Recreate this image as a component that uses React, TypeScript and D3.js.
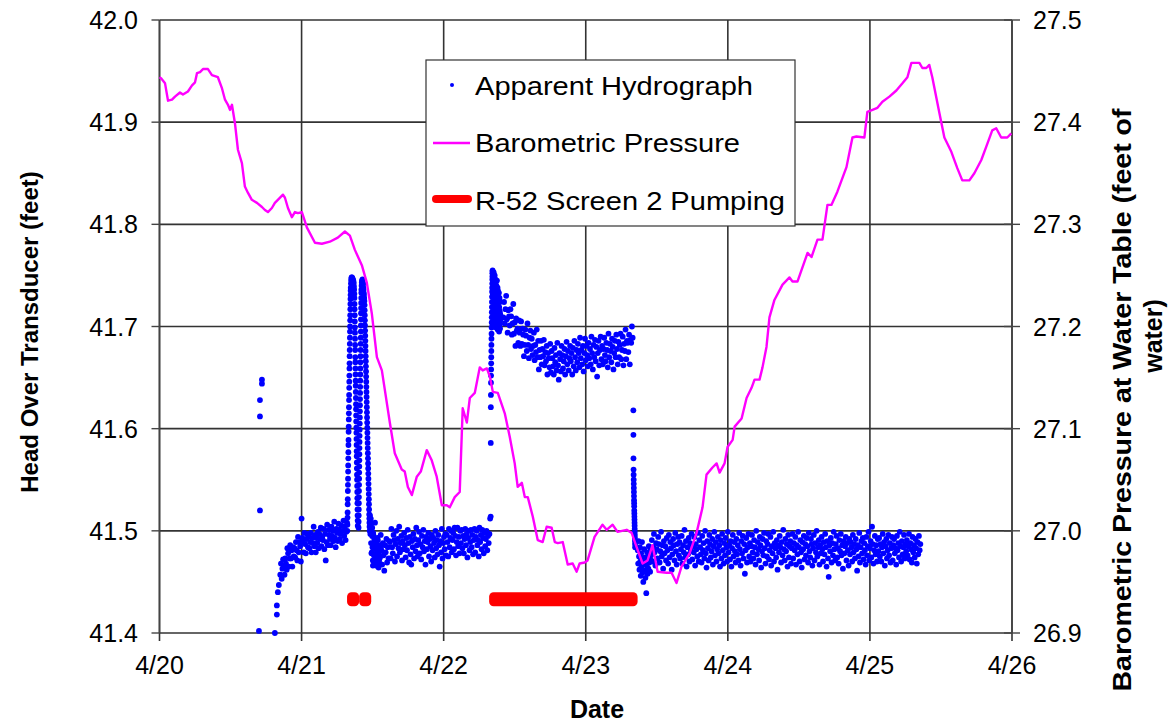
import React from "react";
import * as d3 from "d3";

// ---------- DATA ----------
const dayLabels = ["4/20", "4/21", "4/22", "4/23", "4/24", "4/25", "4/26"];
const leftTicks = [41.4, 41.5, 41.6, 41.7, 41.8, 41.9, 42.0];
const rightTicks = [26.9, 27.0, 27.1, 27.2, 27.3, 27.4, 27.5];

// Barometric pressure (feet of water) : [day since 4/20, value]
const baroPressure: [number, number][] = [
  [0.0, 27.444], [0.011, 27.443], [0.039, 27.438], [0.06, 27.421], [0.088, 27.422], [0.109, 27.425],
  [0.144, 27.429], [0.165, 27.427], [0.2, 27.43], [0.229, 27.436], [0.25, 27.439], [0.264, 27.448],
  [0.285, 27.449], [0.306, 27.452], [0.341, 27.452], [0.369, 27.446], [0.411, 27.444], [0.44, 27.433],
  [0.461, 27.422], [0.482, 27.417], [0.496, 27.412], [0.51, 27.417], [0.531, 27.399], [0.552, 27.373],
  [0.58, 27.36], [0.601, 27.337], [0.622, 27.331], [0.65, 27.324], [0.686, 27.321], [0.721, 27.317],
  [0.742, 27.314], [0.763, 27.312], [0.791, 27.316], [0.812, 27.321], [0.833, 27.324], [0.869, 27.329],
  [0.883, 27.326], [0.904, 27.316], [0.932, 27.307], [0.953, 27.312], [0.974, 27.311], [1.002, 27.312],
  [1.016, 27.306], [1.037, 27.297], [1.094, 27.282], [1.143, 27.281], [1.199, 27.283], [1.255, 27.287],
  [1.305, 27.293], [1.34, 27.289], [1.375, 27.275], [1.424, 27.26], [1.459, 27.243], [1.494, 27.213],
  [1.53, 27.17], [1.565, 27.157], [1.621, 27.106], [1.656, 27.076], [1.705, 27.06], [1.726, 27.058],
  [1.748, 27.043], [1.776, 27.035], [1.811, 27.053], [1.839, 27.058], [1.881, 27.079], [1.916, 27.069],
  [1.951, 27.053], [1.987, 27.025], [2.022, 27.025], [2.043, 27.023], [2.078, 27.033], [2.113, 27.038],
  [2.134, 27.12], [2.163, 27.106], [2.184, 27.13], [2.219, 27.135], [2.254, 27.16], [2.275, 27.157],
  [2.304, 27.159], [2.325, 27.151], [2.346, 27.136], [2.381, 27.135], [2.43, 27.115], [2.465, 27.092],
  [2.5, 27.066], [2.521, 27.043], [2.55, 27.047], [2.571, 27.033], [2.592, 27.033], [2.627, 27.014],
  [2.662, 26.991], [2.697, 26.989], [2.725, 27.004], [2.76, 27.003], [2.782, 26.989], [2.803, 26.988],
  [2.838, 26.989], [2.873, 26.967], [2.908, 26.968], [2.936, 26.96], [2.957, 26.968], [2.992, 26.969],
  [3.013, 26.971], [3.062, 26.994], [3.118, 27.006], [3.147, 27.001], [3.189, 27.006], [3.224, 26.999],
  [3.288, 27.001], [3.323, 26.998], [3.358, 26.984], [3.4, 26.968], [3.435, 26.971], [3.47, 26.986],
  [3.506, 26.96], [3.569, 26.959], [3.604, 26.959], [3.639, 26.949], [3.674, 26.965], [3.731, 26.978],
  [3.78, 26.998], [3.822, 27.023], [3.85, 27.055], [3.892, 27.062], [3.921, 27.066], [3.942, 27.057],
  [3.977, 27.066], [3.998, 27.082], [4.034, 27.089], [4.048, 27.102], [4.097, 27.11], [4.132, 27.13],
  [4.167, 27.14], [4.188, 27.148], [4.223, 27.148], [4.244, 27.16], [4.272, 27.18], [4.293, 27.209],
  [4.328, 27.226], [4.385, 27.241], [4.434, 27.248], [4.455, 27.244], [4.49, 27.244], [4.561, 27.272],
  [4.589, 27.268], [4.631, 27.285], [4.666, 27.285], [4.701, 27.319], [4.729, 27.319], [4.771, 27.332],
  [4.835, 27.356], [4.877, 27.385], [4.905, 27.386], [4.961, 27.385], [4.982, 27.41], [5.018, 27.412],
  [5.053, 27.414], [5.088, 27.42], [5.137, 27.425], [5.186, 27.431], [5.229, 27.438], [5.264, 27.444],
  [5.292, 27.458], [5.348, 27.458], [5.369, 27.453], [5.397, 27.453], [5.418, 27.456], [5.439, 27.444],
  [5.489, 27.409], [5.524, 27.385], [5.573, 27.371], [5.615, 27.355], [5.65, 27.343], [5.7, 27.343],
  [5.735, 27.35], [5.784, 27.363], [5.819, 27.376], [5.861, 27.392], [5.889, 27.394], [5.924, 27.385],
  [5.967, 27.385], [5.995, 27.389],
];

// Pumping intervals of R-52 screen 2 (days) and plotted level (feet)
const pumpStarts = [1.32, 1.405, 2.32];
const pumpEnds = [1.405, 1.49, 3.365];
const pumpLevel = 41.433;

// Apparent hydrograph (feet) – sparse early readings [day, value]
const hydroEarly: [number, number][] = [
  [0.7, 41.402], [0.707, 41.52], [0.707, 41.612], [0.707, 41.628], [0.721, 41.644], [0.721, 41.648],
  [0.812, 41.4], [0.826, 41.418], [0.826, 41.427], [0.833, 41.44], [0.84, 41.447],
];

// Logged sections (values in feet)
const hydroRecovery = [
  41.457, 41.468, 41.453, 41.463, 41.472, 41.466, 41.457, 41.473, 41.468, 41.462,
  41.483, 41.478, 41.465, 41.473, 41.486, 41.473, 41.481, 41.465, 41.484, 41.475,
  41.483, 41.474, 41.489, 41.481, 41.471, 41.494, 41.479, 41.489, 41.485, 41.47,
  41.512, 41.493, 41.489, 41.479, 41.498, 41.487, 41.478, 41.492, 41.497, 41.484,
  41.494, 41.483, 41.489, 41.498, 41.479, 41.493, 41.488, 41.504, 41.485, 41.496,
  41.479, 41.493, 41.488, 41.499, 41.483, 41.497, 41.492, 41.503, 41.485, 41.494,
  41.491, 41.502, 41.482, 41.497, 41.471, 41.489, 41.506, 41.486, 41.501, 41.496,
  41.492, 41.486, 41.504, 41.495, 41.5, 41.49, 41.509, 41.493, 41.484, 41.502,
  41.498, 41.49, 41.507, 41.501, 41.492, 41.497, 41.505, 41.488, 41.5, 41.51,
  41.495, 41.504, 41.491, 41.499, 41.508,
];
const spike1Rise = [
  41.5, 41.506, 41.513, 41.518, 41.526, 41.531, 41.539, 41.545, 41.551, 41.558,
  41.564, 41.571, 41.577, 41.584, 41.589, 41.597, 41.602, 41.609, 41.615, 41.621,
  41.628, 41.633, 41.64, 41.646, 41.652, 41.659, 41.664, 41.671, 41.677, 41.683,
  41.689, 41.695, 41.7, 41.706, 41.711, 41.717, 41.722, 41.727, 41.731, 41.735,
];
const spike1Top = [
  41.738, 41.742, 41.745, 41.747, 41.748, 41.746, 41.748, 41.745, 41.747, 41.744,
  41.746, 41.743, 41.745, 41.741, 41.743, 41.739, 41.736, 41.732,
];
const spike1Fall = [
  41.728, 41.722, 41.717, 41.711, 41.705, 41.699, 41.694, 41.688, 41.682, 41.677,
  41.67, 41.665, 41.659, 41.653, 41.647, 41.642, 41.636, 41.63, 41.624, 41.619,
  41.613, 41.607, 41.601, 41.596, 41.59, 41.584, 41.578, 41.573, 41.567, 41.561,
  41.555, 41.55, 41.544, 41.538, 41.532, 41.527, 41.521, 41.515, 41.51, 41.505,
];
const spike2Rise = [
  41.503, 41.509, 41.515, 41.521, 41.527, 41.533, 41.539, 41.545, 41.551, 41.557,
  41.563, 41.569, 41.575, 41.581, 41.587, 41.593, 41.599, 41.605, 41.611, 41.617,
  41.623, 41.629, 41.635, 41.641, 41.647, 41.653, 41.659, 41.665, 41.671, 41.677,
  41.683, 41.689, 41.695, 41.701, 41.707, 41.713, 41.718, 41.723, 41.728, 41.733,
];
const spike2Top = [
  41.736, 41.74, 41.743, 41.745, 41.744, 41.746, 41.743, 41.741, 41.742, 41.738,
  41.736, 41.733, 41.731, 41.728, 41.725, 41.721,
];
const spike2Fall = [
  41.716, 41.711, 41.706, 41.701, 41.696, 41.691, 41.686, 41.681, 41.676, 41.671,
  41.666, 41.661, 41.656, 41.651, 41.646, 41.641, 41.636, 41.631, 41.626, 41.621,
  41.616, 41.611, 41.606, 41.601, 41.596, 41.591, 41.586, 41.581, 41.576, 41.571,
  41.566, 41.561, 41.556, 41.551, 41.546, 41.541, 41.536, 41.531, 41.526, 41.521,
  41.516, 41.512, 41.508, 41.504, 41.5,
];
const hydroPostPump = [
  41.515, 41.497, 41.508, 41.488, 41.502, 41.479, 41.495, 41.484, 41.471, 41.498,
  41.486, 41.476, 41.492, 41.468, 41.483, 41.49, 41.474, 41.466, 41.487, 41.479,
  41.47, 41.493, 41.481, 41.465, 41.477, 41.486, 41.472, 41.48, 41.468, 41.484,
];
const hydroInterim = [
  41.512, 41.478, 41.503, 41.466, 41.495, 41.484, 41.508,
  41.47, 41.485, 41.478, 41.491, 41.464, 41.483, 41.474, 41.496, 41.481, 41.467,
  41.488, 41.476, 41.461, 41.486, 41.479, 41.492, 41.469, 41.484, 41.473, 41.49,
  41.489, 41.473, 41.502, 41.484, 41.478, 41.496, 41.491, 41.47, 41.487, 41.5,
  41.475, 41.492, 41.483, 41.504, 41.479, 41.488, 41.495, 41.471, 41.49, 41.482,
  41.498, 41.486, 41.474, 41.493, 41.481, 41.501, 41.488, 41.469, 41.494, 41.477,
  41.467, 41.49, 41.484, 41.497, 41.473, 41.492, 41.48, 41.503, 41.486, 41.475,
  41.491, 41.499, 41.478, 41.487, 41.472, 41.495, 41.484, 41.501, 41.48, 41.49,
  41.467, 41.494, 41.482, 41.489, 41.498, 41.475, 41.492, 41.485, 41.47, 41.496,
  41.481, 41.493, 41.488, 41.474, 41.5, 41.483, 41.491, 41.477, 41.496, 41.486,
  41.465, 41.49, 41.479, 41.502, 41.473, 41.488, 41.494, 41.482, 41.497, 41.476,
  41.496, 41.489, 41.475, 41.502, 41.484, 41.493, 41.5, 41.479, 41.491, 41.498,
  41.482, 41.503, 41.495, 41.476, 41.489, 41.503, 41.485, 41.494, 41.478, 41.5,
  41.488, 41.501, 41.483, 41.495, 41.478, 41.492, 41.502, 41.486, 41.497, 41.474,
  41.493, 41.5, 41.481, 41.489, 41.501, 41.484, 41.496, 41.477, 41.491, 41.502,
  41.479, 41.494, 41.5, 41.486, 41.491, 41.475, 41.503, 41.489, 41.496, 41.482,
  41.501, 41.493, 41.478, 41.498, 41.485, 41.492, 41.5, 41.481, 41.495, 41.488,
  41.497, 41.512,
];
const spike3Rise = [
  41.514, 41.586, 41.621, 41.633, 41.645, 41.652, 41.658, 41.664, 41.67, 41.676,
  41.682, 41.688, 41.693, 41.699, 41.704, 41.709, 41.714, 41.719, 41.724, 41.729,
  41.734, 41.738, 41.742, 41.746, 41.749, 41.752, 41.754, 41.755,
];
const spike3Top = [
  41.752, 41.731, 41.745, 41.718, 41.749, 41.737, 41.724, 41.753, 41.711, 41.741,
  41.728, 41.747, 41.706, 41.735, 41.75, 41.719, 41.742, 41.702, 41.731, 41.746,
  41.714, 41.738, 41.725, 41.744, 41.699, 41.729, 41.74, 41.71, 41.733, 41.721,
  41.745, 41.703, 41.727, 41.716, 41.738, 41.697, 41.722, 41.735, 41.708, 41.729,
  41.712, 41.7, 41.726, 41.717, 41.733, 41.695, 41.719, 41.709, 41.728, 41.702,
  41.715, 41.724, 41.698, 41.712, 41.706,
];
const hydroPumping = [
  41.709, 41.724, 41.703, 41.717, 41.73, 41.707, 41.694, 41.716, 41.71, 41.701, 41.717, 41.71, 41.692, 41.703, 41.722, 41.693, 41.704, 41.681, 41.708, 41.696,
  41.698, 41.684, 41.706, 41.694, 41.681, 41.705, 41.683, 41.698, 41.692, 41.671, 41.682, 41.697, 41.691, 41.676, 41.703, 41.682, 41.669, 41.689, 41.696, 41.678,
  41.688, 41.672, 41.681, 41.694, 41.667, 41.682, 41.675, 41.697, 41.67, 41.686, 41.658, 41.677, 41.67, 41.686, 41.663, 41.678, 41.671, 41.687, 41.662, 41.675,
  41.666, 41.681, 41.653, 41.674, 41.669, 41.66, 41.683, 41.655, 41.676, 41.669, 41.661, 41.653, 41.679, 41.665, 41.672, 41.657, 41.684, 41.662, 41.648, 41.674,
  41.668, 41.656, 41.681, 41.672, 41.659, 41.666, 41.678, 41.653, 41.671, 41.685, 41.663, 41.676, 41.657, 41.669, 41.681, 41.666, 41.674, 41.653, 41.679, 41.661,
  41.686, 41.67, 41.657, 41.677, 41.665, 41.683, 41.674, 41.66, 41.689, 41.669, 41.677, 41.663, 41.681, 41.656, 41.674, 41.688, 41.667, 41.681, 41.672, 41.661,
  41.684, 41.669, 41.678, 41.663, 41.69, 41.674, 41.658, 41.682, 41.67, 41.687, 41.666, 41.68, 41.651, 41.674, 41.686, 41.662, 41.677, 41.69, 41.668, 41.681,
  41.663, 41.678, 41.689, 41.672, 41.666, 41.684, 41.677, 41.66, 41.693, 41.67, 41.683, 41.676, 41.665, 41.688, 41.68, 41.658, 41.674, 41.686, 41.67, 41.692,
  41.678, 41.663, 41.685, 41.67, 41.682, 41.693, 41.668, 41.677, 41.69, 41.662, 41.683, 41.676, 41.697, 41.668, 41.686, 41.684, 41.675, 41.692, 41.663, 41.687,
  41.684, 41.7, 41.689,
];
const hydroDrop = [
  41.618, 41.594, 41.571, 41.56, 41.555, 41.55, 41.546, 41.542, 41.538, 41.534,
  41.53, 41.527, 41.524, 41.52, 41.517, 41.514, 41.511, 41.508, 41.505, 41.502,
  41.499, 41.496, 41.493, 41.49, 41.487, 41.484,
];
const hydroRebound = [
  41.481, 41.468, 41.49, 41.475, 41.462, 41.484, 41.47, 41.456, 41.478, 41.465,
  41.489, 41.459, 41.473, 41.45, 41.468, 41.482, 41.461, 41.474, 41.454, 41.47,
  41.439, 41.466, 41.479, 41.458, 41.472, 41.463, 41.485, 41.469, 41.476, 41.46,
  41.481, 41.471,
];
const hydroLate = [
  41.476, 41.491, 41.47, 41.484, 41.497, 41.479, 41.466, 41.488, 41.482, 41.473, 41.494, 41.487, 41.469, 41.48, 41.499, 41.475, 41.486, 41.463, 41.49, 41.478,
  41.485, 41.471, 41.493, 41.481, 41.468, 41.496, 41.474, 41.489, 41.483, 41.462, 41.477, 41.492, 41.486, 41.471, 41.498, 41.48, 41.467, 41.487, 41.494, 41.476,
  41.489, 41.473, 41.482, 41.495, 41.468, 41.486, 41.479, 41.501, 41.474, 41.49, 41.465, 41.484, 41.477, 41.493, 41.47, 41.488, 41.481, 41.497, 41.472, 41.485,
  41.479, 41.494, 41.466, 41.487, 41.482, 41.475, 41.498, 41.47, 41.491, 41.484, 41.477, 41.469, 41.495, 41.481, 41.488, 41.473, 41.5, 41.478, 41.464, 41.49,
  41.483, 41.471, 41.496, 41.487, 41.474, 41.48, 41.492, 41.467, 41.485, 41.499, 41.476, 41.489, 41.47, 41.482, 41.494, 41.478, 41.486, 41.465, 41.491, 41.473,
  41.497, 41.481, 41.468, 41.488, 41.476, 41.493, 41.484, 41.47, 41.499, 41.479, 41.486, 41.472, 41.49, 41.465, 41.483, 41.496, 41.475, 41.489, 41.48, 41.469,
  41.492, 41.477, 41.486, 41.471, 41.498, 41.482, 41.466, 41.49, 41.478, 41.495, 41.473, 41.487, 41.458, 41.481, 41.493, 41.469, 41.484, 41.497, 41.475, 41.488,
  41.47, 41.485, 41.496, 41.479, 41.473, 41.491, 41.484, 41.467, 41.5, 41.477, 41.489, 41.482, 41.471, 41.494, 41.486, 41.464, 41.48, 41.492, 41.476, 41.498,
  41.483, 41.468, 41.49, 41.475, 41.487, 41.497, 41.472, 41.481, 41.494, 41.466, 41.485, 41.478, 41.499, 41.47, 41.488, 41.483, 41.474, 41.491, 41.462, 41.486,
  41.479, 41.495, 41.484, 41.469, 41.489, 41.476, 41.501, 41.482, 41.471, 41.492, 41.48, 41.487, 41.465, 41.496, 41.474, 41.485, 41.49, 41.468, 41.483, 41.497,
  41.473, 41.488, 41.481, 41.494, 41.467, 41.486, 41.477, 41.499, 41.484, 41.47, 41.491, 41.479, 41.464, 41.489, 41.482, 41.495, 41.472, 41.487, 41.476, 41.493,
  41.485, 41.469, 41.498, 41.48, 41.474, 41.492, 41.487, 41.466, 41.483, 41.496, 41.471, 41.488, 41.479, 41.5, 41.475, 41.484, 41.491, 41.467, 41.486, 41.478,
  41.494, 41.482, 41.47, 41.489, 41.477, 41.497, 41.484, 41.465, 41.49, 41.473, 41.455, 41.486, 41.48, 41.493, 41.469, 41.488, 41.476, 41.499, 41.482, 41.471,
  41.487, 41.495, 41.474, 41.483, 41.468, 41.491, 41.48, 41.497, 41.476, 41.486, 41.463, 41.49, 41.478, 41.485, 41.494, 41.471, 41.488, 41.481, 41.466, 41.492,
  41.477, 41.489, 41.484, 41.47, 41.496, 41.479, 41.487, 41.473, 41.492, 41.482, 41.461, 41.486, 41.475, 41.498, 41.469, 41.484, 41.49, 41.478, 41.493, 41.472,
  41.488, 41.481, 41.467, 41.494, 41.476, 41.485, 41.499, 41.471, 41.483, 41.49, 41.474, 41.504, 41.487, 41.468, 41.481, 41.495, 41.477, 41.486, 41.47, 41.492,
  41.48, 41.493, 41.475, 41.487, 41.47, 41.484, 41.497, 41.478, 41.489, 41.466, 41.485, 41.492, 41.473, 41.481, 41.496, 41.476, 41.488, 41.469, 41.483, 41.494,
  41.471, 41.486, 41.492, 41.478, 41.483, 41.467, 41.495, 41.481, 41.488, 41.474, 41.499, 41.485, 41.47, 41.49, 41.477, 41.484, 41.496, 41.473, 41.487, 41.48,
  41.491, 41.476, 41.485, 41.497, 41.472, 41.488, 41.482, 41.469, 41.494, 41.479, 41.486, 41.474, 41.492, 41.483, 41.468, 41.489, 41.477, 41.495, 41.481, 41.487,
];

// section table: [start day, logging step (days), values]
const sections: [number, number, number[]][] = [
  [0.85, 0.005, hydroRecovery],
  [1.322, 0.0006, spike1Rise],
  [1.346, 0.0015, spike1Top],
  [1.372, 0.0006, spike1Fall],
  [1.401, 0.0005, spike2Rise],
  [1.421, 0.0015, spike2Top],
  [1.444, 0.0008, spike2Fall],
  [1.4815, 0.0025, hydroPostPump],
  [1.487, 0.005, hydroInterim],
  [2.331, 0.0005, spike3Rise],
  [2.345, 0.001, spike3Top],
  [2.42, 0.005, hydroPumping],
  [3.335, 0.0005, hydroDrop],
  [3.366, 0.003, hydroRebound],
  [3.46, 0.005, hydroLate],
];
const hydroPoints: [number, number][] = [...hydroEarly];
sections.forEach(([s, st, vals]) => vals.forEach((v, i) => hydroPoints.push([s + i * st, v])));

const W = 1168, H = 723;
const X0 = 159.5, X1 = 1012, Y0 = 633, Y1 = 20;
const FONT = "'Liberation Sans', Arial, sans-serif";

export default function App() {
  const x = d3.scaleLinear().domain([0, 6]).range([X0, X1]);
  const yL = d3.scaleLinear().domain([41.4, 42.0]).range([Y0, Y1]);
  const yR = d3.scaleLinear().domain([26.9, 27.5]).range([Y0, Y1]);
  const baroLine = d3.line<[number, number]>().x((d) => x(d[0])).y((d) => yR(d[1]))(baroPressure) || "";
  const gridColor = "#333";

  return (
    <svg width={W} height={H} style={{ position: "absolute", left: 0, top: 0, background: "#fff" }} fontFamily={FONT}>
      <rect x={0} y={0} width={W} height={H} fill="#fff" />
      {leftTicks.map((t) => (
        <line key={"h" + t} x1={X0} x2={X1} y1={yL(t)} y2={yL(t)} stroke={gridColor} strokeWidth={1.6} />
      ))}
      {dayLabels.map((_, i) => (
        <line key={"v" + i} x1={x(i)} x2={x(i)} y1={Y1} y2={Y0 + 8} stroke={gridColor} strokeWidth={1.6} />
      ))}
      <line x1={X0} x2={X0} y1={Y1} y2={Y0} stroke="#444" strokeWidth={1.6} />
      {leftTicks.map((t) => (
        <g key={"lt" + t}>
          <line x1={X0 - 8} x2={X0} y1={yL(t)} y2={yL(t)} stroke="#444" strokeWidth={1.4} />
          <text x={138} y={yL(t) + 9} textAnchor="end" fontSize={25} fill="#000">{t.toFixed(1)}</text>
        </g>
      ))}
      <line x1={X1} x2={X1} y1={Y1} y2={Y0} stroke="#444" strokeWidth={1.6} />
      {rightTicks.map((t) => (
        <g key={"rt" + t}>
          <line x1={X1 - 8} x2={X1 + 8} y1={yR(t)} y2={yR(t)} stroke="#444" strokeWidth={1.4} />
          <text x={1033} y={yR(t) + 9} textAnchor="start" fontSize={25} fill="#000">{t.toFixed(1)}</text>
        </g>
      ))}
      {dayLabels.map((l, i) => (
        <text key={"xl" + i} x={x(i)} y={674} textAnchor="middle" fontSize={25} fill="#000">{l}</text>
      ))}
      <g fill="#0000ff">
        {hydroPoints.map((p, i) => (
          <circle key={i} cx={x(p[0])} cy={yL(p[1])} r={2.9} />
        ))}
      </g>
      {pumpStarts.map((s, i) => (
        <rect key={"p" + i} x={x(s)} y={yL(pumpLevel) - 7} width={x(pumpEnds[i]) - x(s)} height={14} rx={4.5} fill="#ff0000" />
      ))}
      <path d={baroLine} fill="none" stroke="#ff00ff" strokeWidth={2.4} strokeLinejoin="round" />
      <text transform="translate(38,332) rotate(-90)" textAnchor="middle" fontSize={24} fontWeight="bold">Head Over Transducer (feet)</text>
      <text transform="translate(1131,400) rotate(-90)" textAnchor="middle" fontSize={26} fontWeight="bold" textLength={583} lengthAdjust="spacingAndGlyphs">Barometric Pressure at Water Table (feet of</text>
      <text transform="translate(1162,336) rotate(-90)" textAnchor="middle" fontSize={25} fontWeight="bold">water)</text>
      <text x={597} y={718} textAnchor="middle" fontSize={25} fontWeight="bold">Date</text>
      <rect x={426} y={60} width={369} height={166} fill="#fff" stroke="#333" strokeWidth={1.2} />
      <circle cx={452} cy={85} r={2} fill="#0000ff" />
      <text x={475} y={95} fontSize={26} textLength={278} lengthAdjust="spacingAndGlyphs">Apparent Hydrograph</text>
      <line x1={433} x2={470} y1={143} y2={143} stroke="#ff00ff" strokeWidth={2.4} />
      <text x={475} y={152} fontSize={26} textLength={265} lengthAdjust="spacingAndGlyphs">Barometric Pressure</text>
      <line x1={436} x2={468} y1={199} y2={199} stroke="#ff0000" strokeWidth={8} strokeLinecap="round" />
      <text x={475} y={210} fontSize={26} textLength={310} lengthAdjust="spacingAndGlyphs">R-52 Screen 2 Pumping</text>
    </svg>
  );
}
